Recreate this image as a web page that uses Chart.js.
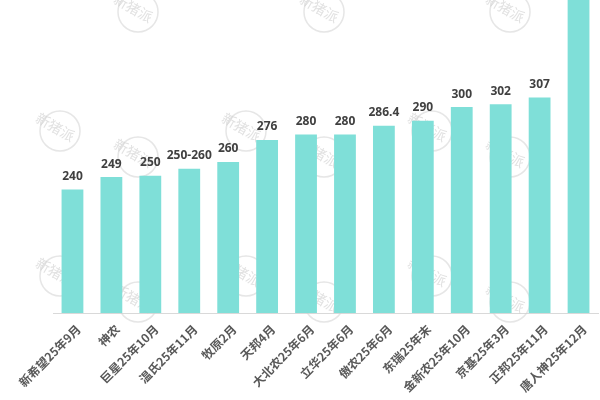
<!DOCTYPE html>
<html>
<head>
<meta charset="utf-8">
<script src="https://cdn.jsdelivr.net/npm/chart.js@4/dist/chart.umd.min.js"></script>
<style>
  html, body { margin: 0; padding: 0; background: #fff; }
  #wrap { width: 600px; height: 400px; position: relative; }
</style>
</head>
<body>
<div id="wrap"><canvas id="c"></canvas></div>
<script>
const categories = ['新希望25年9月', '神农', '巨星25年10月', '温氏25年11月', '牧原2月', '天邦4月', '大北农25年6月', '立华25年6月', '傲农25年6月', '东瑞25年末', '金新农25年10月', '京基25年3月', '正邦25年11月', '唐人神25年12月'];
const values = [240, 249, 250, 255, 260, 276, 280, 280, 286.4, 290, 300, 302, 307, 400];
const valueLabels = ['240', '249', '250', '250-260', '260', '276', '280', '280', '286.4', '290', '300', '302', '307', ''];
const yMin = 150;
const yMax = 378;

const watermarkPlugin = {
  id: 'watermark',
  beforeDatasetsDraw(chart) {
    const ctx = chart.ctx;
    ctx.save();
    const marks = [];
    for (let i = 0; i < 3; i++) {
      for (let j = 0; j < 3; j++) {
        marks.push([138 + 186 * i, 12 + 145 * j]);
        marks.push([60 + 186 * i, 131 + 145 * j]);
      }
    }
    marks.forEach(([x, y]) => {
      ctx.strokeStyle = 'rgba(205,205,205,0.5)';
      ctx.lineWidth = 1.5;
      ctx.beginPath();
      ctx.arc(x, y, 20, 0, Math.PI * 2);
      ctx.stroke();
      ctx.translate(x, y);
      ctx.rotate(Math.PI / 6);
      ctx.fillStyle = 'rgba(205,205,205,0.6)';
      ctx.font = '14px "Noto Sans CJK SC"';
      ctx.textAlign = 'center';
      ctx.textBaseline = 'middle';
      ctx.fillText('新猪派', -6, -1);
      ctx.setTransform(1, 0, 0, 1, 0, 0);
    });
    ctx.restore();
  }
};

const labelPlugin = {
  id: 'valueLabels',
  afterDatasetsDraw(chart) {
    const ctx = chart.ctx;
    const meta = chart.getDatasetMeta(0);
    ctx.save();
    ctx.fillStyle = '#404040';
    ctx.font = 'bold 12px "Open Sans"';
    ctx.textAlign = 'center';
    ctx.textBaseline = 'bottom';
    meta.data.forEach((bar, i) => {
      ctx.fillText(valueLabels[i], bar.x, bar.y - 7);
    });
    ctx.restore();
  }
};

new Chart(document.getElementById('c'), {
  type: 'bar',
  data: {
    labels: categories,
    datasets: [{
      data: values,
      backgroundColor: '#7fdfd8',
      borderWidth: 0,
      categoryPercentage: 1,
      barPercentage: 0.56
    }]
  },
  options: {
    responsive: true,
    maintainAspectRatio: false,
    animation: false,
    layout: { padding: { left: 53, right: 2, top: 0, bottom: 0 } },
    plugins: { legend: { display: false }, tooltip: { enabled: false } },
    scales: {
      y: { display: false, min: yMin, max: yMax },
      x: {
        grid: { display: false, drawTicks: false },
        border: { display: true, color: '#d9d9d9', width: 1 },
        ticks: {
          minRotation: 45, maxRotation: 45, autoSkip: false,
          color: '#595959',
          font: { family: '"Noto Sans CJK SC"', size: 12, weight: 'bold' },
          padding: 9,
          labelOffset: 6
        },
        afterFit(scale) { scale.height = 87; }
      }
    }
  },
  plugins: [watermarkPlugin, labelPlugin]
});
</script>
</body>
</html>
